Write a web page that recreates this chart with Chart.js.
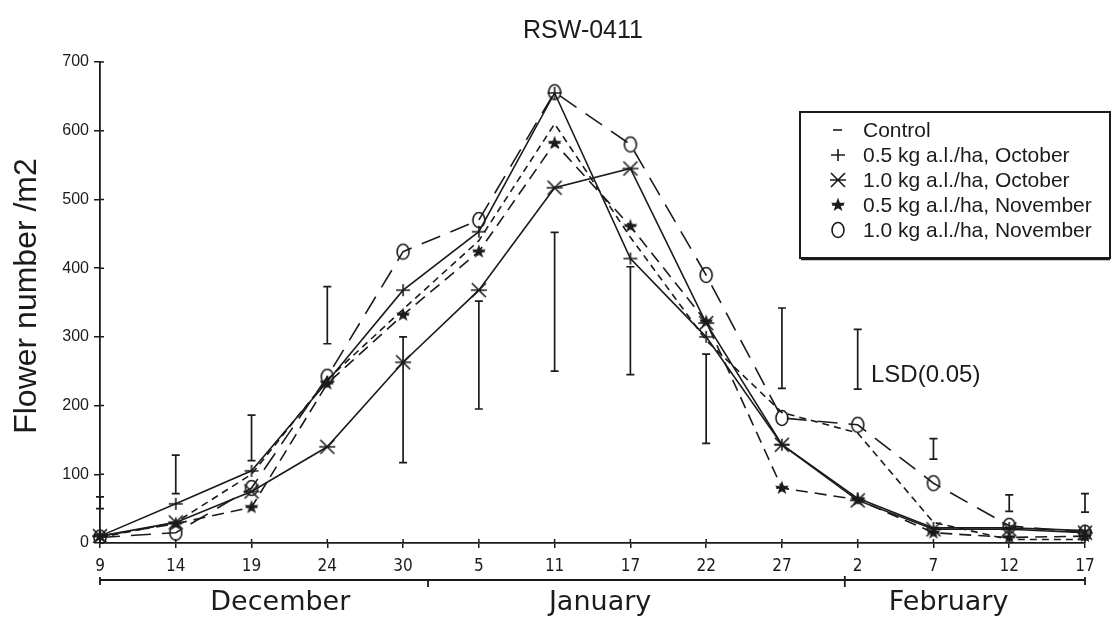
<!DOCTYPE html>
<html>
<head>
<meta charset="utf-8">
<title>RSW-0411</title>
<script src="https://cdn.jsdelivr.net/npm/chart.js@4.4.1/dist/chart.umd.min.js"></script>
<style>
  html, body { margin: 0; padding: 0; background: #fff; }
  #wrap { width: 1117px; height: 618px; position: relative; }
</style>
</head>
<body>
<div id="wrap"><canvas id="grafico"></canvas></div>
<script>
// fechas de muestreo (eje x) y meses
const fechas = ['9','14','19','24','30','5','11','17','22','27','2','7','12','17'];
const meses = ['December','January','February'];
// limites de mes en posicion de categoria (1 ene, 1 feb)
const limitesMes = [0, 4.33, 9.83, 13];

// series: flores por m2
const control = [8, 30, 100, 238, 340, 440, 610, 445, 295, 190, 160, 30, 5, 5];
const oct05   = [10, 57, 105, 235, 368, 453, 655, 414, 300, 143, 65, 22, 22, 18];
const oct10   = [10, 30, 75, 140, 263, 368, 517, 545, 320, 143, 62, 20, 20, 15];
const nov05   = [10, 28, 52, 232, 332, 424, 582, 461, 322, 80, 63, 15, 8, 10];
const nov10   = [8, 15, 80, 242, 424, 470, 656, 580, 390, 182, 172, 87, 25, 15];

// barras LSD(0.05)
const lsdBajo = [50, 72, 120, 290, 117, 195, 250, 245, 145, 225, 224, 122, 46, 45];
const lsdAlto = [67, 128, 186, 373, 300, 352, 452, 402, 275, 342, 311, 152, 70, 72];

const yTicks = [0, 100, 200, 300, 400, 500, 600, 700];

const tinta = '#1b1b1b';
const arial = "'Liberation Sans', Arial, sans-serif";
const estrecha = "'DejaVu Sans Condensed', 'Liberation Sans Narrow', sans-serif";

function marcador(tipo) {
    const c = document.createElement('canvas');
    c.width = 20; c.height = 20;
    const g = c.getContext('2d');
    g.strokeStyle = tinta; g.fillStyle = tinta; g.lineWidth = 1.6;
    g.beginPath();
    if (tipo == 'equis') {
        g.moveTo(3, 3); g.lineTo(17, 17);
        g.moveTo(17, 3); g.lineTo(3, 17);
        g.moveTo(2, 10); g.lineTo(18, 10);
        g.stroke();
    } else if (tipo == 'estrella') {
        for (let k = 0; k < 10; k++) {
            const r = k % 2 == 0 ? 5 : 2;
            const a = -Math.PI / 2 + k * Math.PI / 5;
            const px = 10 + r * Math.cos(a), py = 10 + r * Math.sin(a);
            if (k == 0) g.moveTo(px, py); else g.lineTo(px, py);
        }
        g.closePath();
        g.fill();
        g.moveTo(4, 10); g.lineTo(16, 10);
        g.stroke();
    } else if (tipo == 'cruz') {
        g.moveTo(10, 4); g.lineTo(10, 16);
        g.moveTo(3, 10); g.lineTo(17, 10);
        g.stroke();
    } else if (tipo == 'circulo') {
        g.ellipse(10, 10, 6, 7.5, 0, 0, Math.PI * 2);
        g.stroke();
    } else {
        g.moveTo(5, 10); g.lineTo(14, 10);
        g.stroke();
    }
    return c;
}

const mk = {
    guion: marcador('guion'),
    cruz: marcador('cruz'),
    equis: marcador('equis'),
    estrella: marcador('estrella'),
    circulo: marcador('circulo')
};

function serie(nombre, datos, dash, tipo, conPunto) {
    return {
        label: nombre,
        data: datos,
        borderColor: tinta,
        borderWidth: 1.6,
        borderDash: dash,
        tension: 0,
        fill: false,
        pointStyle: mk[tipo],
        pointRadius: conPunto ? 8 : 0,
        pointHoverRadius: 0,
        marca: tipo
    };
}

const adornos = {
    id: 'adornos',
    afterDatasetsDraw(chart) {
        const ctx = chart.ctx;
        const x = chart.scales.x, y = chart.scales.y;
        ctx.save();
        ctx.strokeStyle = tinta;
        ctx.lineWidth = 1.7;
        for (let i = 0; i < fechas.length; i++) {
            const px = x.getPixelForValue(i);
            const y1 = y.getPixelForValue(lsdBajo[i]);
            const y2 = y.getPixelForValue(lsdAlto[i]);
            ctx.beginPath();
            ctx.moveTo(px, y1); ctx.lineTo(px, y2);
            ctx.moveTo(px - 4, y1); ctx.lineTo(px + 4, y1);
            ctx.moveTo(px - 4, y2); ctx.lineTo(px + 4, y2);
            ctx.stroke();
        }
        ctx.restore();
    },
    afterDraw(chart) {
        const ctx = chart.ctx;
        const x = chart.scales.x, y = chart.scales.y;
        const area = chart.chartArea;
        ctx.save();
        ctx.fillStyle = tinta;
        ctx.strokeStyle = tinta;
        ctx.lineWidth = 1.5;

        // marcas hacia dentro
        ctx.beginPath();
        for (const v of yTicks) {
            const py = y.getPixelForValue(v);
            ctx.moveTo(area.left, py); ctx.lineTo(area.left + 4, py);
        }
        for (let i = 0; i < fechas.length; i++) {
            const px = x.getPixelForValue(i);
            ctx.moveTo(px, area.bottom); ctx.lineTo(px, area.bottom - 4);
        }
        ctx.stroke();

        // titulo
        ctx.font = '25px ' + arial;
        ctx.textAlign = 'center';
        ctx.textBaseline = 'middle';
        ctx.fillText('RSW-0411', 583, 31);

        // titulo eje y
        ctx.save();
        ctx.translate(27, 296);
        ctx.rotate(-Math.PI / 2);
        ctx.font = '32px ' + arial;
        ctx.fillText('Flower number /m2', 0, 0);
        ctx.restore();

        // llave de meses
        const yb = 580;
        ctx.lineWidth = 1.8;
        ctx.beginPath();
        ctx.moveTo(x.getPixelForValue(limitesMes[0]), yb);
        ctx.lineTo(x.getPixelForValue(limitesMes[3]), yb);
        ctx.moveTo(x.getPixelForValue(limitesMes[0]), yb - 3);
        ctx.lineTo(x.getPixelForValue(limitesMes[0]), yb + 5);
        ctx.moveTo(x.getPixelForValue(limitesMes[1]), yb);
        ctx.lineTo(x.getPixelForValue(limitesMes[1]), yb + 7);
        ctx.moveTo(x.getPixelForValue(limitesMes[2]), yb - 4);
        ctx.lineTo(x.getPixelForValue(limitesMes[2]), yb + 7);
        ctx.moveTo(x.getPixelForValue(limitesMes[3]), yb - 3);
        ctx.lineTo(x.getPixelForValue(limitesMes[3]), yb + 5);
        ctx.stroke();

        ctx.font = '27px ' + "'DejaVu Sans', sans-serif";
        const centros = [2.38, 6.6, 11.2];
        for (let m = 0; m < meses.length; m++) {
            ctx.fillText(meses[m], x.getPixelForValue(centros[m]), 603);
        }

        // texto LSD
        ctx.font = '24px ' + arial;
        ctx.textAlign = 'left';
        ctx.fillText('LSD(0.05)', 871, 375);

        // leyenda
        const bx = 800, by = 112, bw = 310, bh = 146;
        ctx.fillStyle = '#fff';
        ctx.fillRect(bx, by, bw, bh);
        ctx.fillStyle = tinta;
        ctx.lineWidth = 2;
        ctx.strokeRect(bx, by, bw, bh);
        ctx.beginPath();
        ctx.lineWidth = 1.5;
        ctx.moveTo(bx + 1, by + bh + 1.5); ctx.lineTo(bx + bw, by + bh + 1.5);
        ctx.stroke();
        ctx.font = '21px ' + arial;
        chart.data.datasets.forEach((ds, i) => {
            const ly = 130 + i * 25;
            ctx.drawImage(mk[ds.marca], 838 - 10, ly - 10);
            ctx.fillText(ds.label, 863, ly + 1);
        });
        ctx.restore();
    }
};

const grafico = new Chart(document.getElementById('grafico'), {
    type: 'line',
    data: {
        labels: fechas,
        datasets: [
            serie('Control', control, [7, 5], 'guion', false),
            serie('0.5 kg a.l./ha, October', oct05, [], 'cruz', true),
            serie('1.0 kg a.l./ha, October', oct10, [], 'equis', true),
            serie('0.5 kg a.l./ha, November', nov05, [12, 7], 'estrella', true),
            serie('1.0 kg a.l./ha, November', nov10, [20, 11], 'circulo', true)
        ]
    },
    options: {
        responsive: true,
        maintainAspectRatio: false,
        animation: false,
        devicePixelRatio: 1,
        layout: { padding: { top: 62, right: 32, bottom: 0, left: 0 } },
        plugins: {
            legend: { display: false },
            title: { display: false },
            tooltip: { enabled: false }
        },
        scales: {
            x: {
                type: 'category',
                offset: false,
                grid: { display: true, drawOnChartArea: false, drawTicks: true, tickLength: 5, color: tinta, lineWidth: 1.5 },
                border: { display: true, color: tinta, width: 1.8 },
                ticks: { font: { family: estrecha, size: 17 }, color: tinta, padding: 8, maxRotation: 0, autoSkip: false },
                afterFit: function(s) { s.height = 75; }
            },
            y: {
                min: 0,
                max: 700,
                grid: { display: true, drawOnChartArea: false, drawTicks: true, tickLength: 6, color: tinta, lineWidth: 1.5 },
                border: { display: true, color: tinta, width: 1.8 },
                ticks: { stepSize: 100, font: { family: arial, size: 16 }, color: tinta, padding: 5 },
                afterFit: function(s) { s.width = 100; }
            }
        }
    },
    plugins: [adornos]
});
</script>
</body>
</html>
